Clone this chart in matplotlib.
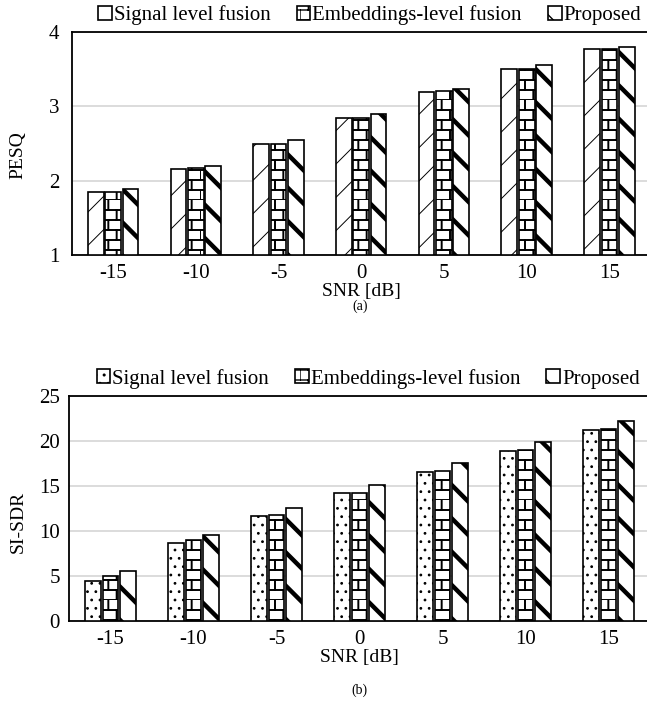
import matplotlib
matplotlib.use("Agg")
from matplotlib import pyplot as plt
from matplotlib import hatch as mhatch
from matplotlib.path import Path
import numpy as np
import warnings

warnings.filterwarnings("ignore")
plt.rcParams['font.family'] = ['Liberation Serif', 'DejaVu Serif']


# brick hatch ("b"): horizontal rows with staggered vertical joints
class BrickHatch(mhatch.HatchPatternBase):
    rows = 10
    cols = 6

    def __init__(self, hatch, density):
        self.on = hatch.count('b') > 0
        self.num_vertices = 2 * (self.rows + self.rows * self.cols) if self.on else 0

    def set_vertices_and_codes(self, vertices, codes):
        k = 0
        for r in range(self.rows):
            y0 = r / self.rows
            y1 = (r + 1) / self.rows
            vertices[k] = (0, y0)
            vertices[k + 1] = (1, y0)
            k += 2
            for c in range(self.cols):
                xx = (c + 0.5 * (r % 2)) / self.cols
                vertices[k] = (xx, y0)
                vertices[k + 1] = (xx, y1)
                k += 2
        codes[0::2] = Path.MOVETO
        codes[1::2] = Path.LINETO


mhatch._hatch_types.append(BrickHatch)

snr = ["-15", "-10", "-5", "0", "5", "10", "15"]
series = ["Signal level fusion", "Embeddings-level fusion", "Proposed"]

pesq_signal = [1.85, 2.16, 2.50, 2.84, 3.19, 3.51, 3.78]
pesq_embed = [1.85, 2.17, 2.50, 2.85, 3.21, 3.51, 3.77]
pesq_prop = [1.89, 2.20, 2.55, 2.90, 3.24, 3.56, 3.80]

sdr_signal = [4.46, 8.63, 11.64, 14.2, 16.55, 18.86, 21.2]
sdr_embed = [4.94, 8.96, 11.75, 14.2, 16.63, 18.97, 21.3]
sdr_prop = [5.55, 9.56, 12.5, 15.07, 17.56, 19.83, 22.2]

fig = plt.figure(figsize=(6.47, 7.05), dpi=100)
ax1 = fig.add_axes([0.1108, 0.6387, 0.895, 0.3155])
ax2 = fig.add_axes([0.1066, 0.1196, 0.898, 0.3191])

x = np.arange(len(snr))
w = 0.19
off = 0.21

def draw(ax, vals, hatches, hlws, ylim, yticks, ylabel, ypad, labpos, legy):
    for i, (v, h, hl) in enumerate(zip(vals, hatches, hlws)):
        with plt.rc_context({'hatch.linewidth': hl}):
            ax.bar(x + (i - 1) * off, np.array(v) - ylim[0], w, bottom=ylim[0],
                   color="white", edgecolor="black", linewidth=1.2, hatch=h,
                   label=series[i], zorder=3)
    ax.set_xlim(-0.5, 6.5)
    ax.set_ylim(*ylim)
    ax.set_yticks(yticks)
    ax.set_xticks(x)
    ax.set_xticklabels(snr)
    ax.tick_params(length=0, labelsize=15)
    ax.tick_params(axis="x", pad=7)
    ax.tick_params(axis="y", pad=ypad)
    ax.yaxis.grid(True, color="#d9d9d9", linewidth=1.3, zorder=0)
    ax.set_axisbelow(True)
    for s in ["left", "bottom", "top"]:
        ax.spines[s].set_linewidth(1.3)
    ax.spines["right"].set_visible(False)
    ax.set_xlabel("SNR [dB]", fontsize=14, labelpad=0)
    ax.set_ylabel(ylabel, fontsize=14)
    ax.yaxis.set_label_coords(*labpos)
    ax.legend(loc="lower center", bbox_to_anchor=(0.515, legy), ncol=3, frameon=False,
              fontsize=15, handlelength=0.65, handleheight=0.65, handletextpad=0.1,
              columnspacing=1.25, borderaxespad=0)

draw(ax1, [pesq_signal, pesq_embed, pesq_prop], ["/", "b", "\\"], [0.7, 1.4, 3.2],
     (1, 4), [1, 2, 3, 4], "PESQ", 9, (-0.078, 0.448), 0.995)
draw(ax2, [sdr_signal, sdr_embed, sdr_prop], ["..", "b", "\\"], [0.8, 1.4, 3.2],
     (0, 25), [0, 5, 10, 15, 20, 25], "SI-SDR", 6.5, (-0.072, 0.439), 0.995)

fig.text(0.556, 1 - 306 / 705, "(a)", ha="center", va="center", fontsize=10)
fig.text(0.556, 1 - 690 / 705, "(b)", ha="center", va="center", fontsize=10)

fig.savefig("out.png", dpi=100)
